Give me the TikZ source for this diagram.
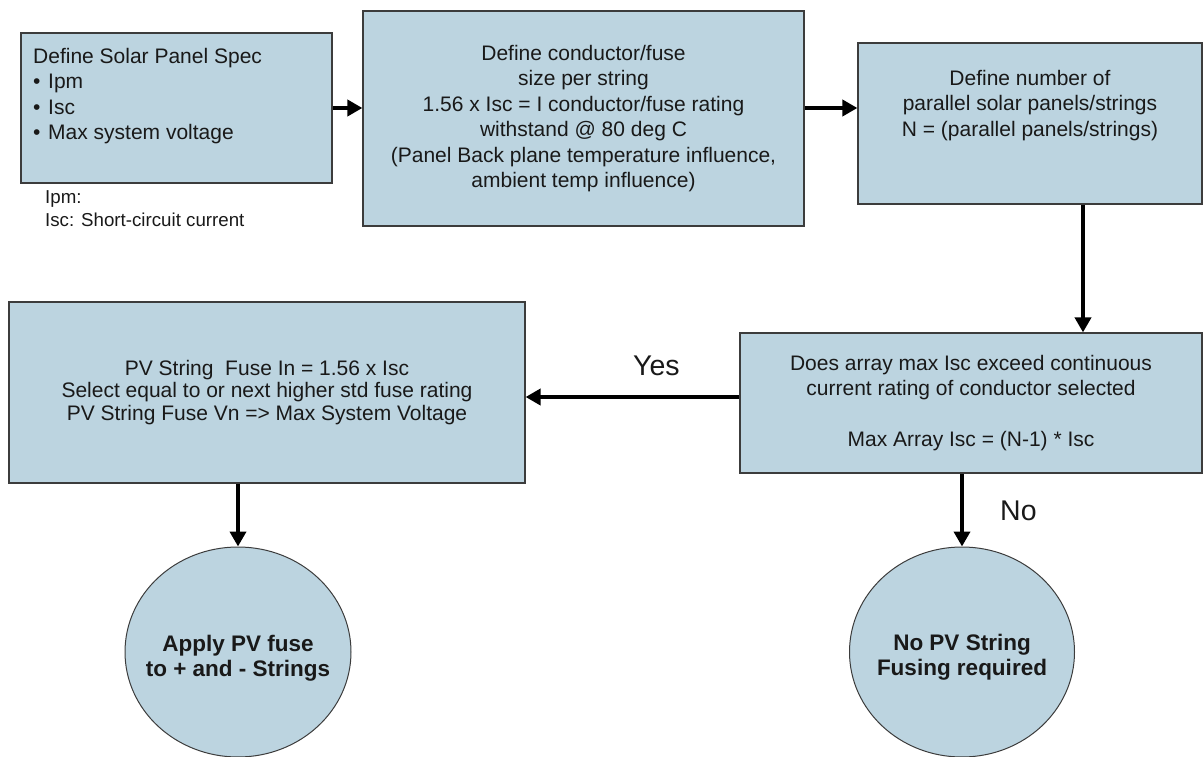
\documentclass[tikz,border=0pt]{standalone}
\usepackage{fontspec}
\setmainfont{Liberation Sans}
\usetikzlibrary{arrows.meta,calc,shapes.geometric}
\definecolor{boxfill}{RGB}{188,212,224}
\definecolor{boxline}{RGB}{60,60,60}
\definecolor{txtc}{RGB}{25,25,25}
\begin{document}
\begin{tikzpicture}[x=1pt,y=-1pt,
  box/.style={draw=boxline, line width=1.2pt, fill=boxfill, rectangle, inner sep=0pt},
  circ/.style={draw=boxline, line width=1pt, fill=boxfill, ellipse, inner sep=0pt},
  ctxt/.style={align=center, inner sep=0pt, font=\fontsize{22.5}{25}\selectfont\bfseries, text=txtc},
  txt/.style={font=\fontsize{21}{25.5}\selectfont, text=txtc, inner sep=0pt},
  flow/.style={line width=4pt, -{Triangle[length=15pt,width=16pt]}},
  lab/.style={font=\fontsize{28.5}{30}\selectfont, text=txtc, inner sep=0pt}]
\useasboundingbox (0,0) rectangle (1203,757);
\clip (0,0) rectangle (1203,757);

% top row
\node[box, minimum width=311pt, minimum height=150pt] (b1) at (176.5,108) {};
\node[txt, align=left, anchor=west] (b1t) at (33,96)
  {Define Solar Panel Spec\\\makebox[15pt][l]{•}Ipm\\\makebox[15pt][l]{•}Isc\\\makebox[15pt][l]{•}Max system voltage};
\node[txt, font=\fontsize{18.7}{23}\selectfont, align=left, anchor=west] (note) at (45,209)
  {Ipm:\\Isc: Short-circuit current};

\node[box, txt, minimum width=441pt, minimum height=215pt, align=center] (b2) at (583.5,118.5)
  {Define conductor/fuse\\size per string\\1.56 x Isc = I conductor/fuse rating\\withstand @ 80 deg C\\(Panel Back plane temperature influence,\\ambient temp influence)};

\node[box, minimum width=344pt, minimum height=161pt] (b3) at (1030,123.5) {};
\node[txt, align=center] (b3t) at (1030,105.5)
  {Define number of\\parallel solar panels/strings\\N = (parallel panels/strings)};

% middle row
\node[box, txt, minimum width=462pt, minimum height=140pt, align=center] (b4) at (971,403)
  {Does array max Isc exceed continuous\\current rating of conductor selected\\[25.5pt]Max Array Isc = (N-1) * Isc};

\node[box, txt, font=\fontsize{21}{22.5}\selectfont, minimum width=516pt, minimum height=181pt, align=center] (b5) at (267,392.5)
  {PV String\ \ Fuse In = 1.56 x Isc\\Select equal to or next higher std fuse rating\\PV String Fuse Vn => Max System Voltage};

% bottom ellipses
\node[circ, minimum width=226pt, minimum height=210pt] (c1) at (238,652) {};
\node[ctxt] (c1t) at (238,658) {Apply PV fuse\\to + and - Strings};
\node[circ, minimum width=225pt, minimum height=210pt] (c2) at (962,652) {};
\node[ctxt] (c2t) at (962,657) {No PV String\\Fusing required};

% connectors
\coordinate (y2) at (0,108);
\coordinate (x3) at (1083,0);
\coordinate (yy) at (0,397);
\draw[flow] (b1.east) -- (b1.east -| b2.west);
\draw[flow] (b2.east |- y2) -- (b3.west |- y2);
\draw[flow] (b3.south -| x3) -- (b4.north -| x3);
\draw[flow] (b4.west |- yy) -- (b5.east |- yy);
\draw[flow] (b4.south -| c2) -- (c2.north);
\draw[flow] (b5.south -| c1) -- (c1.north);

\node[lab, anchor=base west] (yes) at (633,375) {Yes};
\node[lab, anchor=base west] (no) at (1000,520) {No};
\end{tikzpicture}
\end{document}
